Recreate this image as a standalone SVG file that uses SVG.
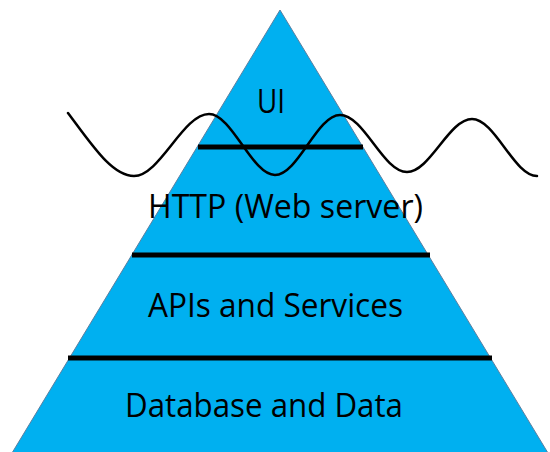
<svg xmlns="http://www.w3.org/2000/svg" width="550" height="452" viewBox="0 0 550 452">
  <style>
    .pyramid { fill: #00B0F0; stroke: #5B7FA0; stroke-width: 1; }
    .divider { stroke: #000; stroke-width: 5; fill: none; }
    .wave { stroke: #000; stroke-width: 2.5; fill: none; stroke-linecap: round; }
    .label { font-family: "Open Sans", "Liberation Sans", sans-serif; font-size: 33px; fill: #000; }
  </style>
  <rect width="550" height="452" fill="#fff"/>

  <!-- pyramid body -->
  <g id="pyramid">
    <polygon class="pyramid" points="280,10 12,453 548,453"/>
  </g>

  <!-- layer labels -->
  <g id="layer-ui">
    <text class="label" x="257" y="113" textLength="28" lengthAdjust="spacingAndGlyphs">UI</text>
  </g>
  <g id="layer-http">
    <text class="label" x="148" y="218" textLength="275" lengthAdjust="spacingAndGlyphs">HTTP (Web server)</text>
  </g>
  <g id="layer-apis">
    <text class="label" x="148" y="317" textLength="255" lengthAdjust="spacingAndGlyphs">APIs and Services</text>
  </g>
  <g id="layer-data">
    <text class="label" x="125" y="417" textLength="278" lengthAdjust="spacingAndGlyphs">Database and Data</text>
  </g>

  <!-- separators between layers -->
  <g id="connectors">
    <line class="divider" x1="198" y1="147" x2="363" y2="147"/>
    <line class="divider" x1="132" y1="255" x2="430" y2="255"/>
    <line class="divider" x1="68" y1="358" x2="492" y2="358"/>
    <path class="wave" d="M68,113 C92,145 112,176 134,176 C160,176 183,114 209,114 C232,114 252,175 275,175 C298,175 317,115 340,115 C364,115 383,172 407,172 C430,172 449,119 472,119 C495,119 514,176 537,176"/>
  </g>
</svg>
